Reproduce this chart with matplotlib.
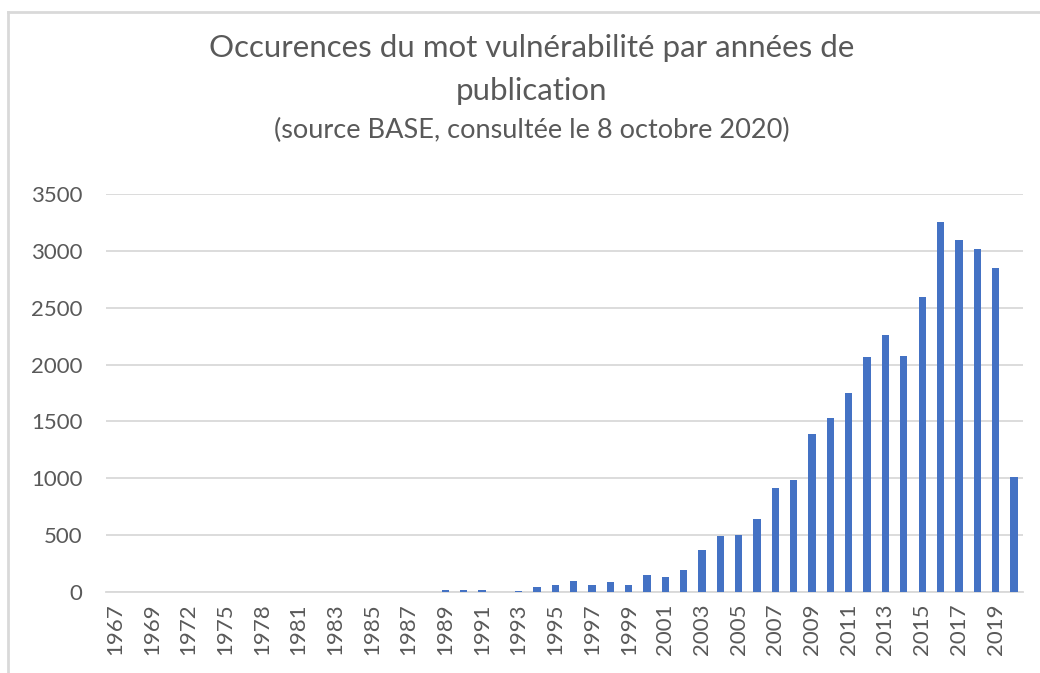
import numpy as np
import matplotlib.pyplot as plt
from matplotlib.lines import Line2D

# Years (categories as they appear in the source spreadsheet)
years = ["1967", "1968", "1969", "1970", "1972", "1973", "1975", "1976", "1978", "1979",
         "1981", "1982", "1983", "1984", "1985", "1986", "1987", "1988"] + \
        [str(y) for y in range(1989, 2021)]

# Occurrences per year
counts = [0, 0, 0, 0, 0, 0, 0, 0, 0, 0,
          0, 0, 0, 0, 0, 0, 0, 0,
          15, 15, 15, 0, 10, 45, 60, 96, 57, 84,
          58, 145, 132, 193, 365, 488, 500, 646, 915, 988,
          1392, 1526, 1746, 2067, 2260, 2079, 2591, 3252, 3094, 3020,
          2848, 1012]

plt.rcParams['font.family'] = ['Lato', 'DejaVu Sans']
text_col = '#595959'

fig = plt.figure(figsize=(10.4, 6.73), dpi=100)
ax = fig.add_axes([0.1019, 0.1204, 0.8818, 0.5913])

x = np.arange(len(years))
ax.bar(x, counts, width=0.4, color='#4472C4', zorder=3)

ax.set_xlim(-0.5, len(years) - 0.5)
ax.set_ylim(0, 3500)
ax.set_yticks(np.arange(0, 3501, 500))
ax.yaxis.grid(True, color='#D9D9D9', linewidth=1.3, zorder=0)
ax.tick_params(axis='y', length=0, pad=17, labelsize=16, labelcolor=text_col)

ax.set_xticks(x[::2])
ax.set_xticklabels(years[::2], rotation=90)
ax.tick_params(axis='x', length=0, pad=8, labelsize=16, labelcolor=text_col)

for s in ['top', 'right', 'left']:
    ax.spines[s].set_visible(False)
ax.spines['bottom'].set_color('#D9D9D9')
ax.spines['bottom'].set_linewidth(1.3)

fig.text(0.511, 0.928, "Occurences du mot vulnérabilité par années de",
         ha='center', va='center', fontsize=22.5, color=text_col)
fig.text(0.511, 0.865, "publication",
         ha='center', va='center', fontsize=22.5, color=text_col)
fig.text(0.511, 0.806, "(source BASE, consultée le 8 octobre 2020)",
         ha='center', va='center', fontsize=19.5, color=text_col)

# chart frame (left and top edges visible)
fig.add_artist(Line2D([0.0077, 0.0077], [0, 0.982], transform=fig.transFigure,
                      color='#D9D9D9', linewidth=2))
fig.add_artist(Line2D([0.0077, 1.0], [0.982, 0.982], transform=fig.transFigure,
                      color='#D9D9D9', linewidth=2))

fig.savefig('out.png', dpi=100)
